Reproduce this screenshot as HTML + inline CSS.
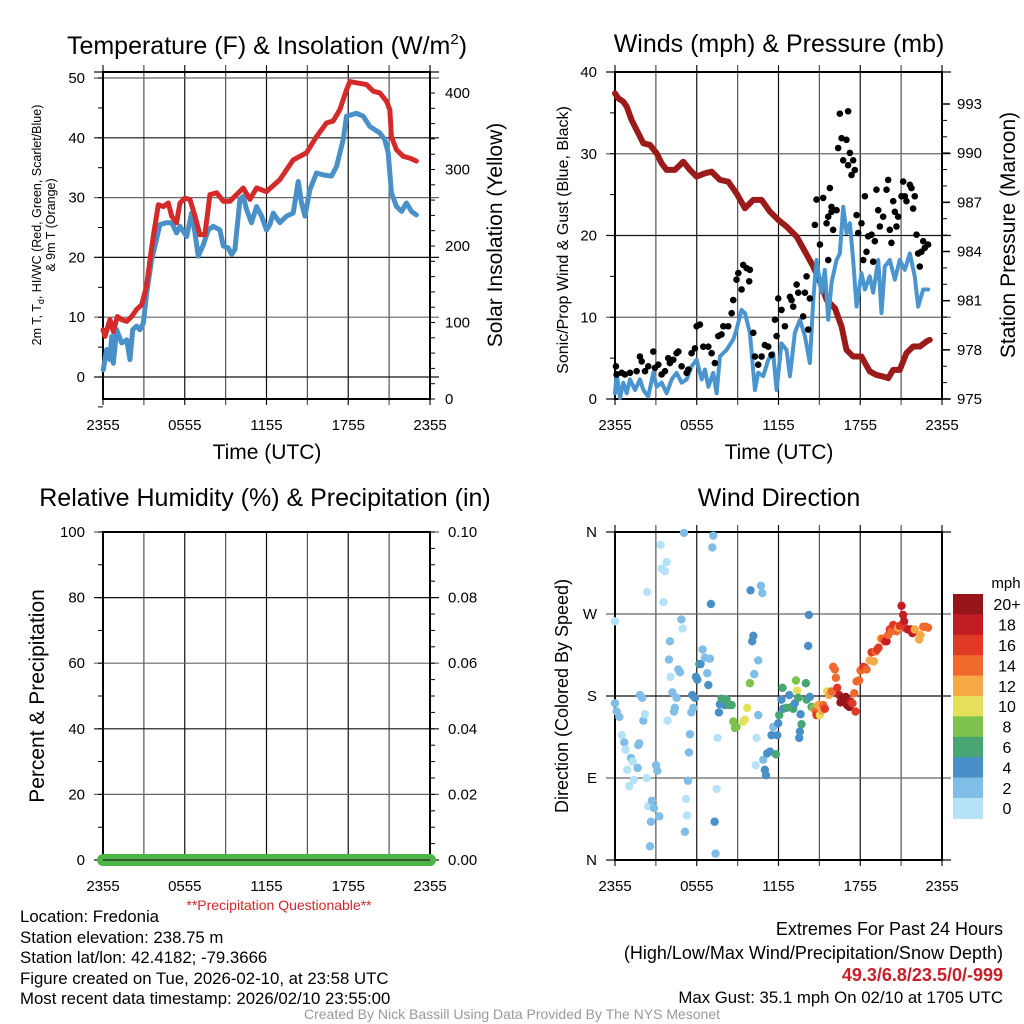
<!DOCTYPE html>
<html><head><meta charset="utf-8"><style>
body{margin:0;background:#fff;}
svg{display:block;font-family:"Liberation Sans",Arial,sans-serif;}
</style></head><body>
<svg id="c" width="1024" height="1024" viewBox="0 0 1024 1024" xmlns="http://www.w3.org/2000/svg">
<rect width="1024" height="1024" fill="#fff"/>
<g font-size="25" text-anchor="middle" fill="#000">
<text x="267" y="54">Temperature (F) &amp; Insolation (W/m<tspan font-size="15" dy="-10">2</tspan><tspan dy="10">)</tspan></text>
<text x="779" y="52">Winds (mph) &amp; Pressure (mb)</text>
<text x="265" y="506">Relative Humidity (%) &amp; Precipitation (in)</text>
<text x="779" y="506">Wind Direction</text>
</g>
<g fill="#000" text-anchor="middle">
<text x="267" y="459" font-size="21">Time (UTC)</text>
<text x="779" y="459" font-size="21">Time (UTC)</text>
<text transform="translate(41,225) rotate(-90)" font-size="12.5">2m T, T<tspan font-size="9" dy="3">d</tspan><tspan dy="-3">, HI/WC (Red, Green, Scarlet/Blue)</tspan></text>
<text transform="translate(55,225) rotate(-90)" font-size="12.5">&amp; 9m T (Orange)</text>
<text transform="translate(502,235) rotate(-90)" font-size="21">Solar Insolation (Yellow)</text>
<text transform="translate(568,240) rotate(-90)" font-size="16">Sonic/Prop Wind &amp; Gust (Blue, Black)</text>
<text transform="translate(1015,235) rotate(-90)" font-size="21">Station Pressure (Maroon)</text>
<text transform="translate(44,696) rotate(-90)" font-size="21">Percent &amp; Precipitation</text>
<text transform="translate(568,696) rotate(-90)" font-size="18">Direction (Colored By Speed)</text>
<text x="279" y="910" font-size="14" fill="#d02828">**Precipitation Questionable**</text>
</g>
<g font-size="16.8" fill="#000">
<text x="20" y="922">Location: Fredonia</text>
<text x="20" y="943">Station elevation: 238.75 m</text>
<text x="20" y="963">Station lat/lon: 42.4182; -79.3666</text>
<text x="20" y="984">Figure created on Tue, 2026-02-10, at 23:58 UTC</text>
<text x="20" y="1004">Most recent data timestamp: 2026/02/10 23:55:00</text>
</g>
<g font-size="16.8" fill="#000" text-anchor="end">
<text x="1003" y="935" font-size="18">Extremes For Past 24 Hours</text>
<text x="1003" y="959" font-size="18">(High/Low/Max Wind/Precipitation/Snow Depth)</text>
<text x="1003" y="981" font-size="18" font-weight="bold" fill="#c8202a">49.3/6.8/23.5/0/-999</text>
<text x="1003" y="1003">Max Gust: 35.1 mph On 02/10 at 1705 UTC</text>
</g>
<text x="512" y="1019" font-size="14" fill="#999" text-anchor="middle">Created By Nick Bassill Using Data Provided By The NYS Mesonet</text>
</svg>
<script>
// ---- data ----
const timeTickLabels = ["2355","0555","1155","1755","2355"];
const tempTicks = [0,10,20,30,40,50];
const insolTicks = [0,100,200,300,400];
const windTicks = [0,10,20,30,40];
const presTicks = [975,978,981,984,987,990,993];
const rhTicks = [0,20,40,60,80,100];
const precipTicks = ["0.00","0.02","0.04","0.06","0.08","0.10"];
const dirTicks = ["N","E","S","W","N"];
const speedBins = ["0","2","4","6","8","10","12","14","16","18","20+"];

const tempHours = [0,0.15,0.51,0.76,1.05,1.37,1.74,2.1,2.47,2.84,3.2,3.45,3.69,4.06,4.43,4.79,5.04,5.4,5.65,6.01,6.38,6.75,7.11,7.48,7.85,8.34,8.83,9.32,9.8,10.29,10.78,11.27,12,12.98,13.96,14.94,15.67,16.41,16.89,17.38,17.87,18.12,18.61,19.34,19.83,20.32,20.81,21.05,21.17,21.54,22.03,22.52,23];
const tempValues = [7.9,6.8,9.6,7.6,10.1,9.6,9.3,10.1,11.3,12.1,15.2,19.6,23.5,28.8,28.5,29.1,26.9,25.8,29.1,29.9,29.7,26.9,23.8,23.8,30.5,30.8,29.4,29.4,30.5,31.6,29.7,31.6,31,33,36.3,37.5,40.2,42.5,42.8,44.7,48,49.4,49.2,48.9,47.8,47.5,46.1,44.7,40.2,38,36.9,36.6,36.1];
const wcHours = [0.02,0.27,0.51,0.64,0.76,1,1.37,1.74,1.98,2.18,2.47,2.71,2.96,3.2,3.57,4.18,4.67,5.04,5.4,5.65,6.14,6.5,6.75,6.99,7.36,7.73,8.09,8.58,8.83,9.19,9.44,9.68,10.05,10.29,10.54,10.9,11.27,11.64,12,12.25,12.49,12.98,13.47,13.96,14.33,14.57,14.82,15.18,15.67,16.16,16.77,17.14,17.63,17.87,18.61,19.1,19.58,20.32,20.68,20.93,21.17,21.54,21.91,22.27,22.64,23];
const wcValues = [1.2,4.6,2.9,6.8,2.3,7.9,5.7,6.2,2.9,7.9,8.5,7.9,9,14,19.6,25.5,25.8,25.8,24.1,25.2,23.5,27.4,24.1,20.2,22.1,24.6,25.2,24.6,21.9,21.6,20.5,21.3,29.7,30.2,28,25.8,28.5,26.9,24.6,25.5,27.4,25.8,26.9,27.4,32.7,29.1,26.9,31.3,34.1,33.8,33.6,35.2,39.7,43.6,44.1,43.6,41.9,40.8,39.7,37.5,30.8,28.5,27.7,29.1,27.7,27.1];

const presHours = [0,0.24,0.61,0.86,1.22,1.59,2.08,2.57,3.06,3.42,3.79,4.4,5.01,5.5,5.99,6.6,7.09,7.7,8.31,8.92,9.54,10.15,10.76,11.37,11.98,12.59,13.33,13.94,14.55,15.04,15.53,16.14,16.63,16.99,17.48,18.09,18.7,19.19,19.68,20.05,20.42,20.9,21.39,21.88,22.37,22.86,23.1];
const presValues = [993.65,993.35,993.14,992.84,992.02,991.41,990.6,990.5,989.99,989.38,988.98,988.98,989.48,988.98,988.57,988.77,988.87,988.37,988.26,987.55,986.64,987.15,987.15,986.43,985.93,985.52,984.91,984,983.08,982.17,981.05,980.54,979.42,978,977.59,977.59,976.68,976.47,976.37,976.27,976.78,976.78,977.8,978.2,978.2,978.51,978.61];
const windHours = [0,0.12,0.37,0.61,0.86,1.1,1.47,1.83,2.08,2.44,2.81,3.06,3.42,3.79,4.16,4.52,4.89,5.26,5.62,5.99,6.36,6.6,6.85,7.21,7.46,7.7,8.19,8.68,8.92,9.29,9.54,9.9,10.27,10.51,10.88,11.25,11.61,11.86,12.22,12.59,12.84,13.2,13.57,13.94,14.3,14.55,14.79,15.16,15.4,15.65,15.89,16.26,16.5,16.75,16.99,17.24,17.48,17.73,18.09,18.34,18.7,18.95,19.32,19.56,19.8,20.17,20.54,20.9,21.27,21.64,22,22.25,22.62,22.98];
const windValues = [0.7,3.2,0.1,2,0.7,2.4,1.1,2.4,1.1,0.3,3.2,1.5,2,0.7,2.4,3.2,2,2.4,4,4.8,2.4,3.6,1.5,3.2,0.7,5.2,6,7.3,8.5,10.9,10.5,8.1,1.1,3.2,2.8,4.8,5.6,1.1,6.8,6,2.8,8.1,9.7,7.7,4.4,12.1,17,13,15.8,9.7,14.2,17,17.8,23.5,20.3,21.5,17,11.3,15.4,13.4,15,13,17,10.5,16.2,17,14.6,17,15.8,17.8,15,11.3,13.4,13.4];
const gustHours = [0.07,0.12,0.49,0.73,1.1,1.59,1.83,1.96,2.2,2.44,2.81,2.93,3.18,3.42,3.67,3.91,4.03,4.28,4.52,4.65,4.89,5.26,5.38,5.62,5.87,5.99,6.23,6.48,6.85,7.09,7.33,7.58,7.82,7.95,8.31,8.56,8.68,8.92,9.05,9.29,9.41,9.66,9.9,9.85,10.15,10.27,10.51,10.76,11,11.25,11.49,11.74,11.86,11.98,12.22,12.47,12.84,12.96,13.08,13.33,13.45,13.81,13.94,14.18,14.3,14.06,14.67,14.79,15.04,15.28,15.53,15.65,15.77,15.89,16.01,16.26,16.38,16.63,16.75,16.99,17.11,17.24,17.36,17.48,17.6,16.5,17.11,17.73,17.85,18.09,18.22,18.34,18.58,18.83,19.07,19.19,19.32,19.44,19.68,19.93,20.05,20.17,20.29,20.42,20.54,20.66,20.78,21.03,21.15,21.27,21.39,21.64,21.76,21.88,22,22.13,22.25,22.37,22.49,22.62,22.74,22.98,18.95,18.46,15.65,15.89];
const gustValues = [4,3,3.2,3,3.2,3.4,5.2,4.6,3.4,4,5.8,3.8,4.2,3,3.4,5,4.4,4.8,5.6,5.8,4,3.2,3.6,5.6,6.2,8.9,9.1,6.4,6.4,5.6,4.4,7.7,7.9,8.9,8.9,10.5,12.1,14.6,15.4,13.4,16.4,16,15.8,14.4,8.1,5.2,4.2,5.2,6.6,6.4,5.4,9.7,7.7,12.3,10.9,8.9,12.5,12.1,11.3,14,13,10.1,13,8.5,12.3,15,21.3,24.4,18.9,24.6,21.5,17,25.8,23.5,20.7,23.1,30.7,31.9,29.2,31.7,28.6,30.1,27.4,29.2,28,34.9,35.2,22.5,20.3,21.5,17,24.8,19.9,20.1,19.3,25.6,23.1,21.1,22.3,25.6,26.8,20.7,19.1,24.2,22.9,21.1,22.3,24.8,26.6,24.8,24.2,26.2,25.8,23.3,24.8,20.1,17.8,16.2,18,19.3,18.5,18.9,16.8,18,22.3,22.9];

const dirHours = [0,0,0.12,0.32,0.49,0.68,0.78,0.9,1.05,1.17,1.3,1.39,1.66,1.71,1.78,1.83,2,2.08,2.2,2.32,2.37,2.44,2.57,2.64,2.71,2.86,3.01,3.11,3.25,3.35,3.42,3.55,3.67,3.79,3.86,3.96,4.08,4.03,4.21,4.33,4.4,4.52,4.65,4.77,4.87,4.96,5.06,5.13,5.21,5.28,5.35,5.43,5.5,5.6,5.67,5.75,5.87,5.94,6.04,6.19,6.28,6.43,6.6,6.77,6.85,6.97,7.04,7.14,7.21,7.31,7.38,7.46,7.53,7.63,7.7,7.82,8.07,8.19,8.39,8.56,8.68,8.8,8.92,9.41,9.54,9.71,9.9,9.95,10.07,10.15,10.22,10.32,10.39,10.51,10.51,10.71,10.81,10.88,11,11.08,11.17,11.37,11.49,11.61,11.81,11.91,11.98,12.05,12.22,12.3,12.35,12.59,12.79,12.96,13.08,13.2,13.28,13.37,13.45,13.62,13.69,13.57,13.52,14.01,14.06,14.18,14.23,14.3,14.43,14.55,14.74,14.79,14.91,15.04,15.16,15.28,15.4,15.57,15.72,15.89,16.01,16.14,16.21,16.31,16.45,16.55,16.7,16.8,16.94,17.04,17.19,17.29,17.43,17.56,17.65,17.73,17.92,18.02,18.22,18.34,18.46,18.7,18.83,19,19.14,19.24,19.34,19.51,19.63,19.8,19.93,20.05,20.17,20.29,20.42,20.66,20.78,20.9,21.03,21.15,21.22,21.34,21.52,21.69,21.83,22,22.32,22.42,22.62,22.81,22.98];
const dirDegrees = [262,172,163,157,137,129,121,99,81,112,108,88,101,126,128,181,178,153,160,90,294,59,15,42,65,57,104,98,48,346,320,283,317,327,153,220,201,240,184,163,167,178,209,206,264,254,359,31,67,49,87,118,138,162,181,167,178,201,198,215,215,231,222,205,192,221,281,343,356,42,7,78,134,162,171,177,170,176,170,170,152,145,146,152,154,167,194,296,240,246,204,104,134,219,159,301,293,110,99,93,117,119,137,146,116,137,150,159,176,189,166,167,181,168,166,172,197,186,178,160,149,141,134,194,176,235,269,179,168,167,163,159,170,159,164,170,166,185,181,185,212,209,200,189,181,173,178,175,179,170,168,174,172,183,163,196,197,208,212,211,209,219,228,218,229,231,233,243,243,240,240,247,253,251,258,251,255,257,279,269,262,254,253,253,249,253,242,247,256,256,255];
const dirSpeeds = [0,2,2,2,0,2,0,0,0,2,0,0,2,2,2,2,2,2,0,0,0,0,2,2,2,2,2,2,2,0,0,0,0,0,0,2,0,2,2,2,2,2,2,2,2,0,2,2,0,0,2,2,2,2,4,2,4,4,4,6,4,2,2,2,4,2,4,2,2,4,2,0,0,4,4,6,4,6,6,6,8,8,8,10,10,10,8,4,4,4,2,0,0,2,2,2,2,2,4,4,4,4,4,2,6,4,4,6,4,6,4,6,4,6,6,4,8,10,6,4,6,4,4,6,6,4,4,4,6,8,14,16,12,10,12,14,16,10,12,14,14,14,14,16,18,20,20,20,20,20,20,18,16,14,16,14,14,14,16,16,14,12,16,12,14,16,16,12,14,16,18,14,16,14,16,14,12,16,18,18,18,16,18,18,18,12,12,12,14,14,14];
const speedColors = ["#b5e2f7","#80bde7","#4a90c8","#48a672","#7dc24c","#e5e05a","#f7a947","#f06a2e","#e03a27","#c11d23","#951519"];

// ---- helpers ----
const NS = "http://www.w3.org/2000/svg";
const svg = document.getElementById("c");
function mk(tag, attrs, parent){ const e=document.createElementNS(NS,tag); for(const k in attrs) e.setAttribute(k,attrs[k]); (parent||svg).appendChild(e); return e; }
function txt(s, x, y, anchor, size, parent){ const t=mk("text",{x:x,y:y,"text-anchor":anchor,"font-size":size,fill:"#000"},parent); t.textContent=s; return t; }

const panels = {
  temp:{l:103,r:430,t:72,b:399},
  wind:{l:615,r:942,t:72,b:399},
  rh:{l:103,r:430,t:532,b:860},
  dir:{l:615,r:942,t:532,b:860}
};
function xs(p,h){ return p.l + h/24*(p.r-p.l); }
function lin(d0,d1,r0,r1){ return v=> r0+(v-d0)/(d1-d0)*(r1-r0); }
const yTemp = lin(0,50,377,78);
const yInsol = lin(0,400,399,93);
const yWind = lin(0,40,399,72);
const yPres = lin(975,993,399,104);
const yRh = lin(0,100,860,532);
const yDir = lin(0,360,860,532);

function frame(p, name, hLines, ext){
  const g = mk("g",{});
  
  
  for(let i=0;i<=8;i++){
    const x = p.l + i*(p.r-p.l)/8;
    mk("line",{x1:x,x2:x,y1:p.t-(ext?7:0),y2:p.b+6,stroke:i%2?"#555":"#111","stroke-width":1.2},g);
  }
  hLines.forEach((y,i)=>{ mk("line",{x1:p.l-9,x2:p.r+9,y1:y,y2:y,stroke:i%2?"#666":"#111","stroke-width":1.2},g); });
  const fr = mk("rect",{x:p.l,y:p.t,width:p.r-p.l,height:p.b-p.t,fill:"none",stroke:"#000","stroke-width":2},g);
  
  
  timeTickLabels.forEach((s,i)=>{
    const t = txt(s, xs(p,i*6), p.b+31, "middle", 15, g);
    
    
  });
  return g;
}
function minorTicks(p, side, y0, y1, n, g){
  for(let i=0;i<=n;i++){ const y=y0+(y1-y0)*i/n; const x=side==="l"?p.l:p.r; mk("line",{x1:x,x2:side==="l"?x-5:x+5,y1:y,y2:y,stroke:"#000","stroke-width":1},g); }
}

// ---- panel 1 ----
(function(){
  const p=panels.temp;
  const g=frame(p,"temp",tempTicks.map(yTemp).concat([72]),true);
  tempTicks.forEach(v=>{ const t=txt(String(v),85,yTemp(v)+5,"end",15,g);   });
  insolTicks.forEach(v=>{ const t=txt(String(v),445,yInsol(v)+5,"start",15,g);   });
  minorTicks(p,"l",yTemp(-5),yTemp(50),11,g);
  minorTicks(p,"r",yInsol(0),yInsol(400),20,g);
  const blue = mk("polyline",{points:wcHours.map((h,i)=>xs(p,h)+","+yTemp(wcValues[i])).join(" "),fill:"none",stroke:"#4a90c8","stroke-width":5,"stroke-linejoin":"round","stroke-linecap":"round"});
  
  
  const red = mk("polyline",{points:tempHours.map((h,i)=>xs(p,h)+","+yTemp(tempValues[i])).join(" "),fill:"none",stroke:"#d42a2a","stroke-width":5,"stroke-linejoin":"round","stroke-linecap":"round"});
  
  
})();

// ---- panel 2 ----
(function(){
  const p=panels.wind;
  const g=frame(p,"wind",windTicks.map(yWind),true);
  windTicks.forEach(v=>{ const t=txt(String(v),597,yWind(v)+5,"end",15,g);   });
  presTicks.forEach(v=>{ const t=txt(String(v),957,yPres(v)+5,"start",15,g);   mk("line",{x1:p.r,x2:p.r+8,y1:yPres(v),y2:yPres(v),stroke:"#000","stroke-width":1.5},g); });
  minorTicks(p,"l",yWind(0),yWind(40),8,g);
  minorTicks(p,"r",yPres(975),yPres(993),18,g);
  const pr = mk("polyline",{points:presHours.map((h,i)=>xs(p,h)+","+yPres(presValues[i])).join(" "),fill:"none",stroke:"#9b1b1b","stroke-width":6,"stroke-linejoin":"round","stroke-linecap":"round"});
  
  
  const wl = mk("polyline",{points:windHours.map((h,i)=>xs(p,h)+","+yWind(windValues[i])).join(" "),fill:"none",stroke:"#4a94d0","stroke-width":4,"stroke-linejoin":"round","stroke-linecap":"round"});
  
  
  gustHours.forEach((h,i)=>{
    const c = mk("circle",{cx:xs(p,h),cy:yWind(gustValues[i]),r:3.3,fill:"#000"});
    
    
  });
})();

// ---- panel 3 ----
(function(){
  const p=panels.rh;
  const g=frame(p,"rh",rhTicks.map(yRh),false);
  rhTicks.forEach((v,i)=>{
    const t=txt(String(v),85,yRh(v)+5,"end",15,g);  
    const t2=txt(precipTicks[i],448,yRh(v)+5,"start",15,g);  
  });
  minorTicks(p,"l",yRh(0),yRh(100),10,g);
  minorTicks(p,"r",yRh(0),yRh(100),20,g);
  const pl = mk("line",{x1:xs(p,0),x2:xs(p,24),y1:yRh(0),y2:yRh(0),stroke:"#4cb548","stroke-width":12,"stroke-linecap":"round"});
  
  
  mk("line",{x1:p.l,x2:p.r,y1:yRh(0),y2:yRh(0),stroke:"#222","stroke-width":1.2});
})();

// ---- panel 4 ----
(function(){
  const p=panels.dir;
  const g=frame(p,"dir",[0,90,180,270,360].map(yDir),true);
  dirTicks.forEach((s,i)=>{ const t=txt(s,597,yDir(i*90)+5,"end",15,g);   });
  dirHours.forEach((h,i)=>{
    const bin = Math.min(10, Math.round(dirSpeeds[i]/2));
    const c = mk("circle",{cx:xs(p,h),cy:yDir(dirDegrees[i]),r:4.2,fill:speedColors[bin]});
    
    
  });
  const cb = mk("g",{});
  
  
  const top=594, bh=20.4;
  for(let i=0;i<speedBins.length;i++){
    const k = speedBins.length-1-i;
    const r = mk("rect",{x:953,y:top+i*bh,width:30,height:bh+0.5,fill:speedColors[k]},cb);
    
    
    const t = txt(speedBins[k],1007,top+i*bh+bh/2+6,"middle",16,cb);
    
    
  }
  const u = txt("mph",1006,588,"middle",15,cb);
  
  
})();
</script>
</body></html>
